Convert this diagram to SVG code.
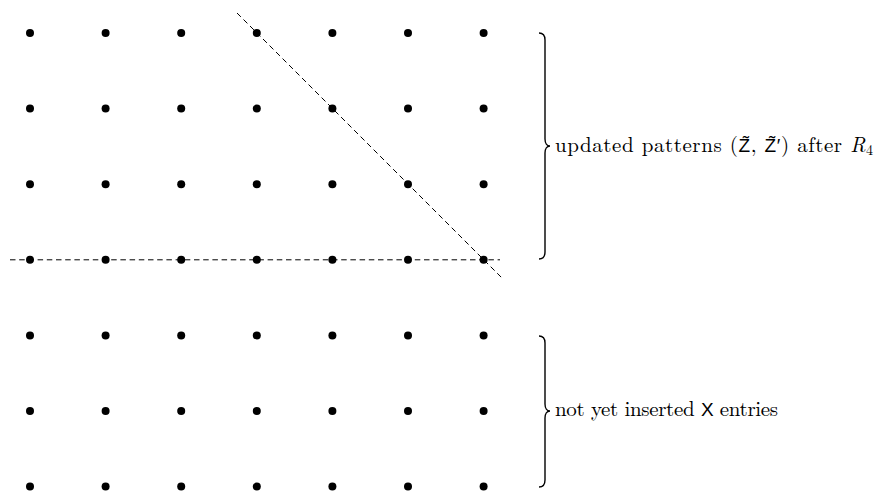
<svg xmlns="http://www.w3.org/2000/svg" width="885" height="493" viewBox="0 0 885 493">
<style>
.dot{fill:#000}
.dash{stroke:#000;stroke-width:1;fill:none;stroke-dasharray:5.5 3.7}
.brace{stroke:#000;stroke-width:1.4;fill:none}
.lbl{font-family:"Latin Modern Roman","Liberation Serif",serif;font-size:21px;fill:#000}
.sf{font-family:"Liberation Sans","DejaVu Sans",sans-serif;font-size:19px}
</style>
<defs>
<circle id="d" r="4" class="dot"/>
</defs>
<rect width="885" height="493" fill="#fff"/>
<g id="dots">
<g id="row1">
<use href="#d" x="30" y="33"/><use href="#d" x="105.6" y="33"/><use href="#d" x="181.2" y="33"/><use href="#d" x="256.8" y="33"/><use href="#d" x="332.4" y="33"/><use href="#d" x="408" y="33"/><use href="#d" x="483.6" y="33"/>
</g>
<g id="row2">
<use href="#d" x="30" y="108.6"/><use href="#d" x="105.6" y="108.6"/><use href="#d" x="181.2" y="108.6"/><use href="#d" x="256.8" y="108.6"/><use href="#d" x="332.4" y="108.6"/><use href="#d" x="408" y="108.6"/><use href="#d" x="483.6" y="108.6"/>
</g>
<g id="row3">
<use href="#d" x="30" y="184.2"/><use href="#d" x="105.6" y="184.2"/><use href="#d" x="181.2" y="184.2"/><use href="#d" x="256.8" y="184.2"/><use href="#d" x="332.4" y="184.2"/><use href="#d" x="408" y="184.2"/><use href="#d" x="483.6" y="184.2"/>
</g>
<g id="row4">
<use href="#d" x="30" y="259.8"/><use href="#d" x="105.6" y="259.8"/><use href="#d" x="181.2" y="259.8"/><use href="#d" x="256.8" y="259.8"/><use href="#d" x="332.4" y="259.8"/><use href="#d" x="408" y="259.8"/><use href="#d" x="483.6" y="259.8"/>
</g>
<g id="row5">
<use href="#d" x="30" y="335.4"/><use href="#d" x="105.6" y="335.4"/><use href="#d" x="181.2" y="335.4"/><use href="#d" x="256.8" y="335.4"/><use href="#d" x="332.4" y="335.4"/><use href="#d" x="408" y="335.4"/><use href="#d" x="483.6" y="335.4"/>
</g>
<g id="row6">
<use href="#d" x="30" y="411"/><use href="#d" x="105.6" y="411"/><use href="#d" x="181.2" y="411"/><use href="#d" x="256.8" y="411"/><use href="#d" x="332.4" y="411"/><use href="#d" x="408" y="411"/><use href="#d" x="483.6" y="411"/>
</g>
<g id="row7">
<use href="#d" x="30" y="486.6"/><use href="#d" x="105.6" y="486.6"/><use href="#d" x="181.2" y="486.6"/><use href="#d" x="256.8" y="486.6"/><use href="#d" x="332.4" y="486.6"/><use href="#d" x="408" y="486.6"/><use href="#d" x="483.6" y="486.6"/>
</g>
</g>
<g id="connectors">
<line class="dash" x1="10" y1="259.8" x2="500" y2="259.8"/>
<line class="dash" x1="237" y1="13" x2="502" y2="278"/>
</g>
<g id="brace-upper">
<path class="brace" d="M539,33 C543,33 545,35 545,40 L545,139 C545,143 547,146 550,146 C547,146 545,149 545,153 L545,252 C545,257 543,259 539,259"/>
<text class="lbl" x="555" y="152" textLength="318" lengthAdjust="spacing">updated patterns (<tspan class="sf">Z̃</tspan>, <tspan class="sf">Z̃′</tspan>) after <tspan font-style="italic">R</tspan><tspan font-size="14" dy="3">4</tspan></text>
</g>
<g id="brace-lower">
<path class="brace" d="M539,336 C543,336 545,338 545,343 L545,404 C545,408 547,411 550,411 C547,411 545,414 545,418 L545,480 C545,485 543,487 539,487"/>
<text class="lbl" x="555" y="416" textLength="223" lengthAdjust="spacing">not yet inserted <tspan class="sf">X</tspan> entries</text>
</g>
</svg>
